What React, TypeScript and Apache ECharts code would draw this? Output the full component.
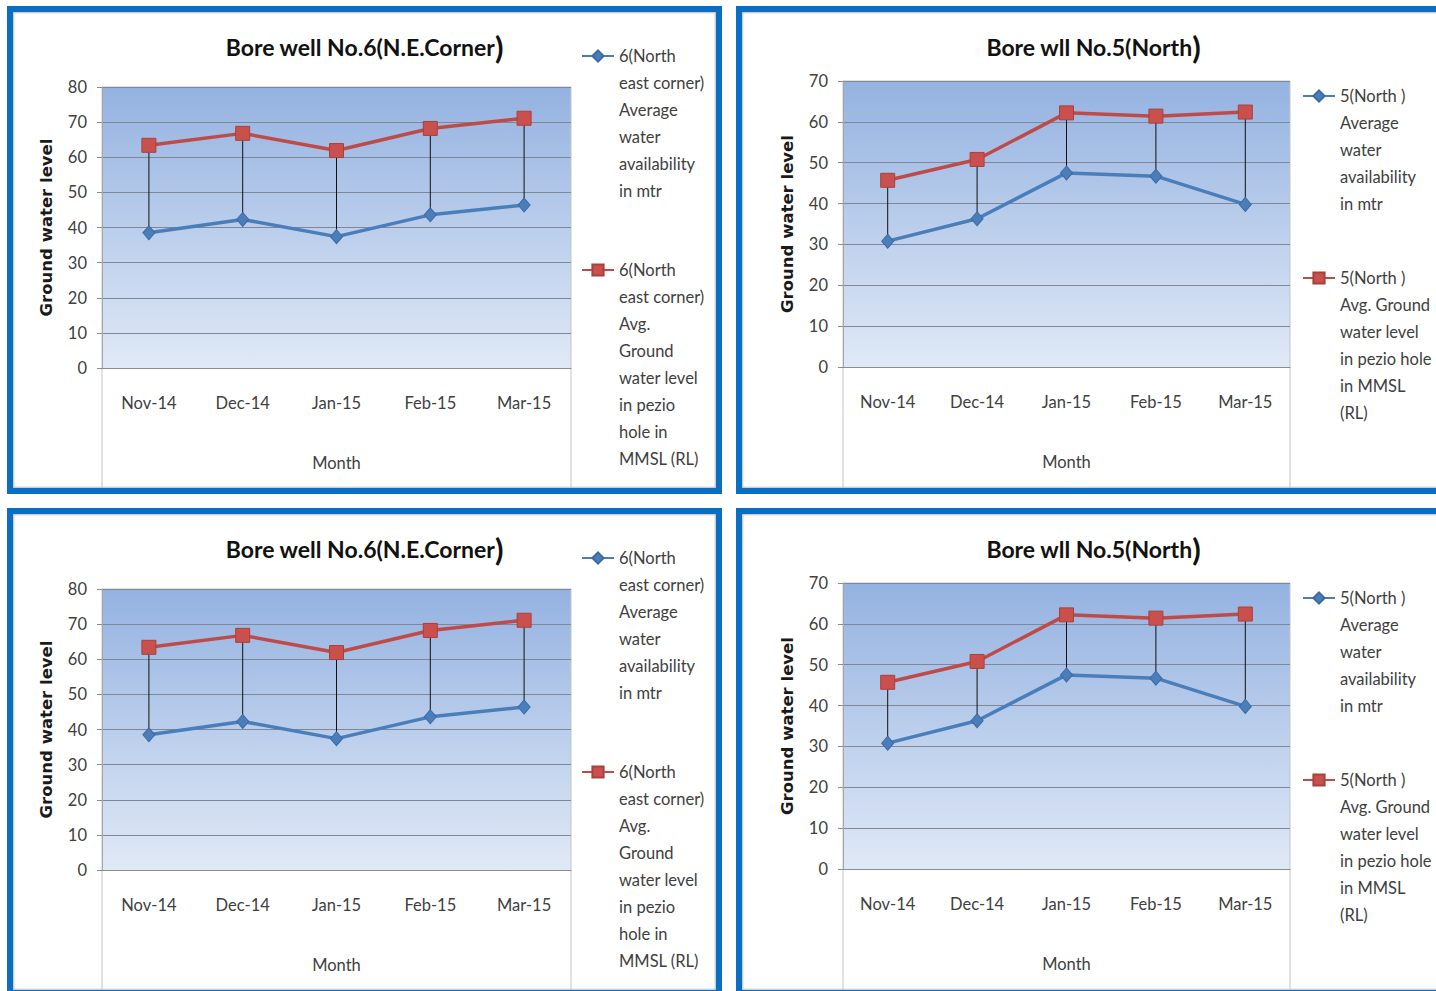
import React, { useEffect, useRef } from 'react';
import * as echarts from 'echarts';

// Months on the category axis
const months = ['Nov-14', 'Dec-14', 'Jan-15', 'Feb-15', 'Mar-15'];

// Bore well No.6 (north-east corner)
const well6Availability = [38.5, 42.3, 37.4, 43.6, 46.4];
const well6Piezo = [63.4, 66.8, 61.9, 68.2, 71.1];
const well6AvailabilityLegend = ['6(North', 'east corner)', 'Average', 'water', 'availability', 'in mtr'];
const well6PiezoLegend = ['6(North', 'east corner)', 'Avg.', 'Ground', 'water level', 'in pezio', 'hole in', 'MMSL (RL)'];

// Bore well No.5 (north)
const well5Availability = [30.8, 36.3, 47.5, 46.7, 39.8];
const well5Piezo = [45.7, 50.8, 62.2, 61.4, 62.4];
const well5AvailabilityLegend = ['5(North )', 'Average', 'water', 'availability', 'in mtr'];
const well5PiezoLegend = ['5(North )', 'Avg. Ground', 'water level', 'in pezio hole', 'in MMSL', '(RL)'];

const FONT = "Lato, 'Open Sans', sans-serif";
const LINE_H = 27;
const BLUE = '#4a7ebb';
const RED = '#be4b48';

type Panel = {
  key: string;
  left: number;
  top: number;
  title: string;
  yMax: number;
  availability: number[];
  piezo: number[];
  availabilityLegend: string[];
  piezoLegend: string[];
  grid: { left: number; top: number; width: number; height: number };
  legendLeft: number;
  legendIconY: [number, number];
};

const well6Panel = {
  title: 'Bore well No.6(N.E.Corner',
  yMax: 80,
  availability: well6Availability,
  piezo: well6Piezo,
  availabilityLegend: well6AvailabilityLegend,
  piezoLegend: well6PiezoLegend,
  grid: { left: 89, top: 75, width: 469, height: 281 },
  legendLeft: 568,
  legendIconY: [44, 258] as [number, number],
};

const well5Panel = {
  title: 'Bore wll No.5(North',
  yMax: 70,
  availability: well5Availability,
  piezo: well5Piezo,
  availabilityLegend: well5AvailabilityLegend,
  piezoLegend: well5PiezoLegend,
  grid: { left: 101, top: 69, width: 447, height: 286 },
  legendLeft: 560,
  legendIconY: [84, 266] as [number, number],
};

const panels: Panel[] = [
  { key: 'tl', left: 7, top: 6, ...well6Panel },
  { key: 'tr', left: 736, top: 6, ...well5Panel },
  { key: 'bl', left: 7, top: 508, ...well6Panel },
  { key: 'br', left: 736, top: 508, ...well5Panel },
];

// The legend centres its text on the icon; leading blank lines put the
// first line of the wrapped label level with the icon instead.
function legendFor(name: string, lines: string[], iconY: number, left: number) {
  const n = lines.length;
  const blank = new Array(n - 1).fill('').join('\n');
  return {
    orient: 'vertical',
    left,
    top: iconY - ((2 * n - 1) * LINE_H) / 2,
    padding: 0,
    itemGap: 0,
    itemWidth: 32,
    itemHeight: 14,
    selectedMode: false,
    data: [name],
    formatter: () => blank + '\n' + lines.join('\n'),
    textStyle: {
      fontFamily: FONT,
      fontSize: 16.5,
      color: '#404040',
      lineHeight: LINE_H,
    },
  };
}

function buildOption(p: Panel) {
  const availName = p.availabilityLegend.join(' ');
  const piezoName = p.piezoLegend.join(' ');
  return {
    animation: false,
    backgroundColor: 'transparent',
    title: {
      left: 'center',
      top: 14,
      text: `{t|${p.title}}{p|)}`,
      textStyle: {
        rich: {
          t: { fontFamily: FONT, fontSize: 23, fontWeight: 'bold', color: '#111' },
          p: { fontFamily: FONT, fontSize: 31, fontWeight: 'bold', color: '#111' },
        },
      },
    },
    legend: [
      legendFor(availName, p.availabilityLegend, p.legendIconY[0], p.legendLeft),
      legendFor(piezoName, p.piezoLegend, p.legendIconY[1], p.legendLeft),
    ],
    grid: {
      ...p.grid,
      show: true,
      borderWidth: 0,
      backgroundColor: {
        type: 'linear',
        x: 0,
        y: 0,
        x2: 0,
        y2: 1,
        colorStops: [
          { offset: 0, color: '#94b2e1' },
          { offset: 1, color: '#e0e9f6' },
        ],
      },
    },
    graphic: [
      {
        type: 'rect',
        silent: true,
        z: 0,
        shape: { x: p.grid.left, y: p.grid.top, width: p.grid.width, height: 600 },
        style: { fill: 'none', stroke: '#c4c4c4', lineWidth: 1 },
      },
    ],
    xAxis: {
      type: 'category',
      data: months,
      boundaryGap: true,
      name: 'Month',
      nameLocation: 'middle',
      nameGap: 86,
      nameTextStyle: { fontFamily: FONT, fontSize: 16.5, color: '#404040' },
      axisLine: { show: true, lineStyle: { color: '#8c8c8c', width: 1 } },
      axisTick: { show: false },
      axisLabel: { margin: 26, fontFamily: FONT, fontSize: 16.5, color: '#404040' },
      splitLine: { show: false },
    },
    yAxis: {
      type: 'value',
      min: 0,
      max: p.yMax,
      interval: 10,
      name: 'Ground water level',
      nameLocation: 'middle',
      nameGap: 47,
      nameTextStyle: { fontFamily: "'DejaVu Sans', sans-serif", fontWeight: 'bold', fontSize: 16.5, color: '#1a1a1a' },
      axisLine: { show: true, lineStyle: { color: '#a6a6a6', width: 1 } },
      axisTick: { show: true, length: 5, lineStyle: { color: '#8c8c8c' } },
      axisLabel: { margin: 15, fontFamily: FONT, fontSize: 16.5, color: '#404040' },
      splitLine: { show: true, lineStyle: { color: '#7f8896', width: 1 } },
    },
    series: [
      {
        type: 'custom',
        name: 'high-low',
        silent: true,
        z: 1,
        data: months.map((_, i) => [i, p.availability[i], p.piezo[i]]),
        encode: { x: 0, y: [1, 2] },
        renderItem: (_params: any, api: any) => {
          const low = api.coord([api.value(0), api.value(1)]);
          const high = api.coord([api.value(0), api.value(2)]);
          return {
            type: 'line',
            shape: { x1: high[0], y1: high[1], x2: low[0], y2: low[1] },
            style: { stroke: '#111', lineWidth: 1 },
          };
        },
      },
      {
        type: 'line',
        name: availName,
        data: p.availability,
        z: 3,
        symbol: 'diamond',
        symbolSize: [12, 14],
        showSymbol: true,
        lineStyle: { color: BLUE, width: 3.5 },
        itemStyle: { color: BLUE, borderColor: '#3d6aa3', borderWidth: 1 },
      },
      {
        type: 'line',
        name: piezoName,
        data: p.piezo,
        z: 3,
        symbol: 'rect',
        symbolSize: 14,
        showSymbol: true,
        lineStyle: { color: RED, width: 3.5 },
        itemStyle: { color: '#c9504d', borderColor: '#a8403d', borderWidth: 1 },
      },
    ],
  };
}

function PanelChart({ panel }: { panel: Panel }) {
  const ref = useRef<HTMLDivElement>(null);
  useEffect(() => {
    if (!ref.current) return;
    const chart = echarts.init(ref.current, null, { renderer: 'svg' });
    chart.setOption(buildOption(panel) as any);
    return () => chart.dispose();
  }, [panel]);
  return (
    <div
      style={{
        position: 'absolute',
        left: panel.left,
        top: panel.top,
        width: 715,
        height: 488,
        boxSizing: 'border-box',
        border: '6px solid #0a6fc2',
        background: '#fff',
        boxShadow: 'inset 1px 1px 2px #bdbdbd, inset -1px -1px 2px #bdbdbd',
      }}
    >
      <div ref={ref} style={{ width: 703, height: 476 }} />
    </div>
  );
}

export default function App() {
  return (
    <div
      style={{
        position: 'absolute',
        left: 0,
        top: 0,
        width: 1436,
        height: 991,
        overflow: 'hidden',
        background: '#fff',
      }}
    >
      {panels.map((p) => (
        <PanelChart key={p.key} panel={p} />
      ))}
    </div>
  );
}
